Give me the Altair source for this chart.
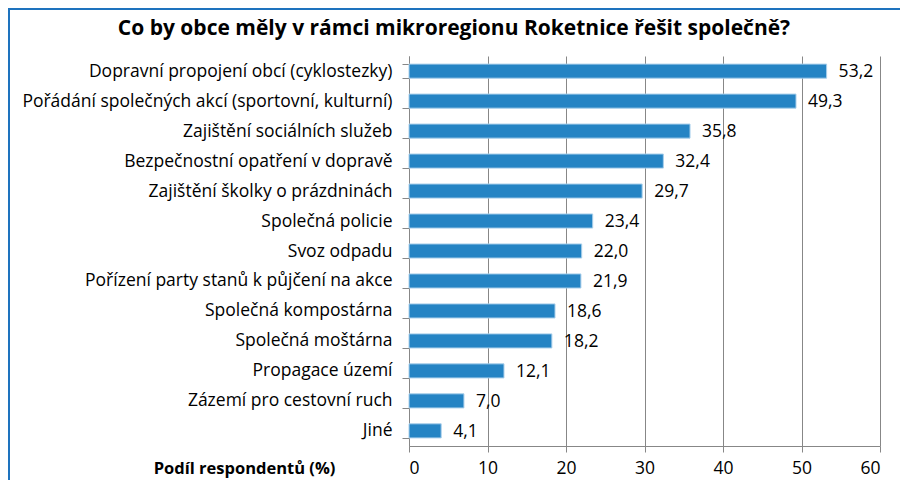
import altair as alt
import pandas as pd

categories = [
    "Dopravní propojení obcí (cyklostezky)",
    "Pořádání společných akcí (sportovní, kulturní)",
    "Zajištění sociálních služeb",
    "Bezpečnostní opatření v dopravě",
    "Zajištění školky o prázdninách ",
    "Společná policie",
    "Svoz odpadu",
    "Pořízení party stanů k půjčení na akce",
    "Společná kompostárna",
    "Společná moštárna",
    "Propagace území",
    "Zázemí pro cestovní ruch",
    "Jiné",
]
values = [53.2, 49.3, 35.8, 32.4, 29.7, 23.4, 22.0, 21.9, 18.6, 18.2, 12.1, 7.0, 4.1]
x_ticks = [0, 10, 20, 30, 40, 50, 60]

title_text = "Co by obce měly v rámci mikroregionu Roketnice řešit společně?"
axis_title = "Podíl respondentů (%)"

df = pd.DataFrame({"cat": categories, "val": values})

FONT = "Open Sans"
FS = 17.5
BLUE = "#2584C4"
GRID = "#878787"

y_enc = alt.Y(
    "cat:N",
    sort=categories,
    title=None,
    scale=alt.Scale(paddingInner=0.53, paddingOuter=0.27),
    axis=alt.Axis(
        tickBand="extent",
        tickSize=7,
        tickColor=GRID,
        domainColor=GRID,
        labelPadding=10,
        labelFont=FONT,
        labelFontSize=FS,
        labelColor="#000000",
        labelLimit=400,
        grid=False,
    ),
)

x_enc = alt.X(
    "val:Q",
    scale=alt.Scale(domain=[0, 60], nice=False),
    axis=alt.Axis(
        values=x_ticks,
        grid=True,
        gridColor=GRID,
        gridWidth=1,
        tickColor=GRID,
        tickSize=6,
        domainColor=GRID,
        labelFont=FONT,
        labelFontSize=FS,
        labelColor="#000000",
        labelPadding=7,
        title=axis_title,
        titleFont=FONT,
        titleFontSize=16.5,
        titleFontWeight="bold",
        titleColor="#000000",
        titleX=-165,
        titleY=22,
        titleAnchor="middle",
        titleAlign="center",
        titleBaseline="middle",
    ),
)

bars = alt.Chart(df).mark_bar(color=BLUE, stroke="#A9CFEB", strokeWidth=1).encode(
    y=y_enc, x=x_enc
)

labels = (
    alt.Chart(df)
    .transform_calculate(lab="replace(format(datum.val, '.1f'), '.', ',')")
    .mark_text(align="left", baseline="middle", dx=12, dy=1, font=FONT, fontSize=FS, color="#000000")
    .encode(y=alt.Y("cat:N", sort=categories), x="val:Q", text="lab:N")
)

deco = pd.DataFrame({"t": [title_text]})

border = alt.Chart(deco).mark_rect(
    fill=None, stroke="#1E73BE", strokeWidth=2
).encode(
    x=alt.value(-400), x2=alt.value(700), y=alt.value(-47), y2=alt.value(600)
)

title = alt.Chart(deco).mark_text(
    font=FONT, fontSize=21, fontWeight="bold", color="#000000",
    align="center", baseline="alphabetic"
).encode(x=alt.value(45), y=alt.value(-21), text="t:N")

chart = (
    alt.layer(border, bars, labels, title)
    .properties(
        width=471,
        height=390,
        autosize=alt.AutoSizeParams(type="none"),
        padding={"left": 401, "top": 48, "right": 20, "bottom": 34},
    )
    .configure_view(stroke=None)
    .configure_axis(domainWidth=1, tickWidth=1)
)

chart.save("out.html", embed_options={"renderer": "svg", "actions": False})
